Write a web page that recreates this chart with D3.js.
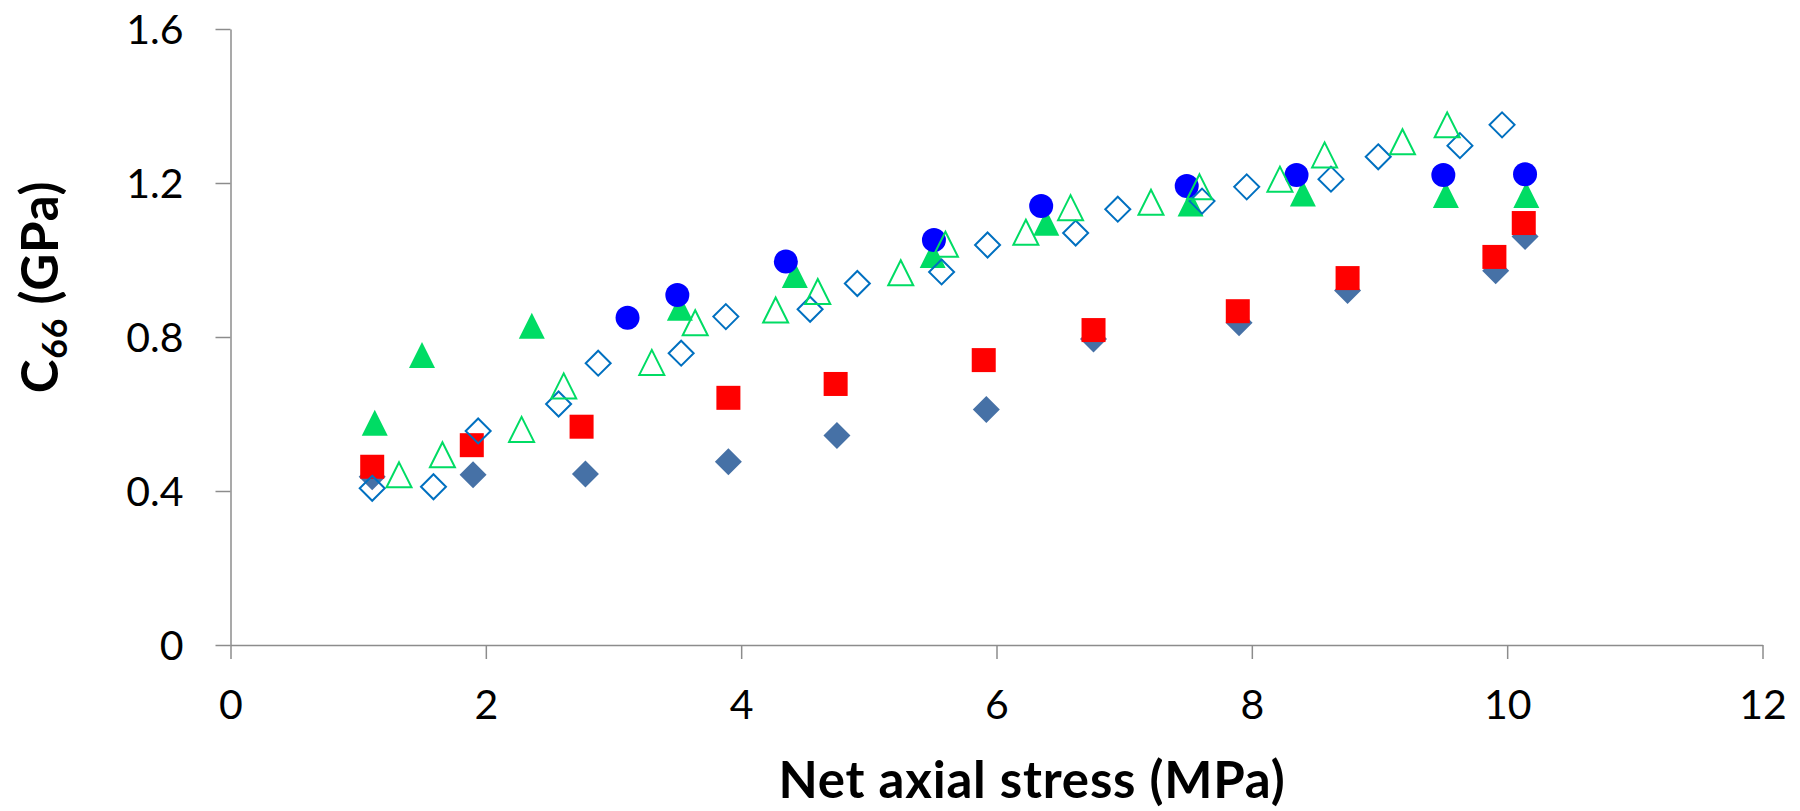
<html>
  <head>
    <meta charset="UTF-8">
    <style>
      body { margin: 0; background: #fff; }
      svg { font-family: Lato, 'Open Sans', sans-serif; }
      .axis path, .axis line { stroke: #8c8c8c; stroke-width: 1.5px; }
      .axis text { fill: #000; font-size: 41px; }
      .title { font-weight: bold; font-size: 51px; fill: #000; letter-spacing: 0.8px; }
      .sub { font-style: normal; font-weight: bold; font-size: 34px; }
    </style>
  </head>
  <body>
    <script src="https://d3js.org/d3.v7.min.js"></script>
    <svg id="chart" width="1800" height="811"></svg>
    <script>
      // data: [stress MPa, C66 GPa]
      var filledDiamond = [[1.11, 0.437], [1.90, 0.442], [2.78, 0.444], [3.90, 0.476], [4.75, 0.544],
        [5.92, 0.612], [6.76, 0.795], [7.90, 0.837], [8.75, 0.921], [9.91, 0.972], [10.14, 1.061]];
      var redSquare = [[1.11, 0.463], [1.89, 0.519], [2.75, 0.567], [3.90, 0.642], [4.74, 0.678],
        [5.90, 0.740], [6.76, 0.818], [7.89, 0.867], [8.75, 0.953], [9.90, 1.008], [10.13, 1.096]];
      var filledTriangle = [[1.13, 0.577], [1.50, 0.753], [2.36, 0.829], [3.52, 0.876], [4.42, 0.961],
        [5.50, 1.013], [6.39, 1.097], [7.52, 1.147], [8.40, 1.173], [9.52, 1.169], [10.15, 1.169]];
      var blueCircle = [[3.11, 0.850], [3.50, 0.909], [4.35, 0.996], [5.51, 1.052], [6.35, 1.140],
        [7.49, 1.192], [8.35, 1.221], [9.50, 1.221], [10.14, 1.223]];
      var openDiamond = [[1.11, 0.407], [1.59, 0.411], [1.94, 0.556], [2.57, 0.626], [2.88, 0.732],
        [3.53, 0.758], [3.88, 0.853], [4.54, 0.872], [4.91, 0.939], [5.57, 0.969], [5.93, 1.039],
        [6.62, 1.070], [6.95, 1.132], [7.61, 1.153], [7.96, 1.190], [8.62, 1.210], [8.99, 1.268],
        [9.63, 1.297], [9.96, 1.351]];
      var openTriangle = [[1.32, 0.442], [1.66, 0.494], [2.28, 0.560], [2.61, 0.673], [3.30, 0.734],
        [3.64, 0.837], [4.27, 0.870], [4.60, 0.918], [5.25, 0.967], [5.60, 1.041], [6.23, 1.072],
        [6.58, 1.136], [7.21, 1.150], [7.59, 1.190], [8.22, 1.210], [8.57, 1.273], [9.18, 1.307],
        [9.53, 1.351]];

      var xTicks = [0, 2, 4, 6, 8, 10, 12],
          yTicks = [0, 0.4, 0.8, 1.2, 1.6];

      var svg = d3.select("#chart");
      var x = d3.scaleLinear().domain([0, 12]).range([230.5, 1762.5]),
          y = d3.scaleLinear().domain([0, 1.6]).range([645, 29]);

      /* axes */
      var gx = svg.append("g")
        .attr("class", "axis")
        .attr("transform", "translate(0," + y(0) + ")")
        .call(d3.axisBottom(x).tickValues(xTicks).tickSize(14).tickSizeOuter(0).tickFormat(d3.format("d")));
      gx.selectAll("text").attr("y", 45).attr("dy", "0.71em");

      var gy = svg.append("g")
        .attr("class", "axis")
        .attr("transform", "translate(" + x(0) + ",0)")
        .call(d3.axisLeft(y).tickValues(yTicks).tickSize(15).tickSizeOuter(0).tickFormat(function(d) { return d === 0 ? "0" : d3.format(".1f")(d); }));
      gy.selectAll("text").attr("x", -47).attr("dy", "0.35em");
      svg.selectAll(".axis").attr("font-family", null).attr("font-size", null);

      /* titles */
      svg.append("text")
        .attr("class", "title")
        .attr("x", 1032)
        .attr("y", 798)
        .attr("text-anchor", "middle")
        .text("Net axial stress (MPa)");

      var yt = svg.append("text")
        .attr("class", "title")
        .attr("text-anchor", "middle")
        .attr("transform", "translate(58,287) rotate(-90)");
      yt.append("tspan").text("C");
      yt.append("tspan").attr("class", "sub").attr("dy", 9).text("66");
      yt.append("tspan").attr("dy", -9).text(" (GPa)");

      /* markers */
      function diamond(s) {
        return "M0," + (-s) + "L" + s + ",0L0," + s + "L" + (-s) + ",0Z";
      }
      function triangle(w, h) {
        return "M0," + (-h / 2) + "L" + (w / 2) + "," + (h / 2) + "L" + (-w / 2) + "," + (h / 2) + "Z";
      }

      function drawPath(data, d, fill, stroke) {
        svg.append("g").selectAll("path")
          .data(data)
          .enter().append("path")
          .attr("d", d)
          .attr("transform", function(p) { return "translate(" + x(p[0]) + "," + y(p[1]) + ")"; })
          .attr("fill", fill)
          .attr("stroke", stroke)
          .attr("stroke-width", stroke == "none" ? 0 : 2);
      }

      drawPath(filledDiamond, diamond(13.5), "#4671a6", "none");

      svg.append("g").selectAll("rect")
        .data(redSquare)
        .enter().append("rect")
        .attr("x", function(p) { return x(p[0]) - 12; })
        .attr("y", function(p) { return y(p[1]) - 12; })
        .attr("width", 24)
        .attr("height", 24)
        .attr("fill", "#ff0000");

      drawPath(filledTriangle, triangle(26, 26), "#00dc64", "none");

      svg.append("g").selectAll("circle")
        .data(blueCircle)
        .enter().append("circle")
        .attr("cx", function(p) { return x(p[0]); })
        .attr("cy", function(p) { return y(p[1]); })
        .attr("r", 12)
        .attr("fill", "#0000ff");

      drawPath(openDiamond, diamond(12.5), "none", "#0070c0");
      drawPath(openTriangle, triangle(25, 25), "none", "#00dc64");
    </script>
  </body>
</html>
